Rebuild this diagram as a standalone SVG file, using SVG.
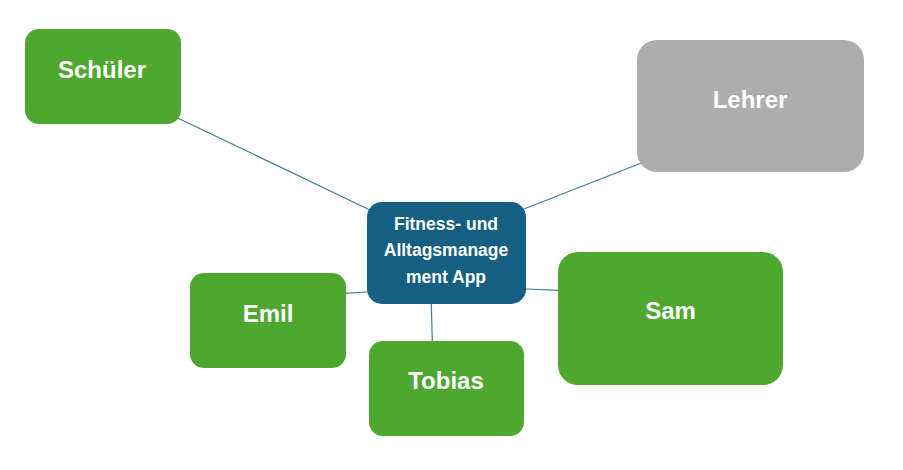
<svg xmlns="http://www.w3.org/2000/svg" width="903" height="470" viewBox="0 0 903 470">
<style>
.green{fill:#4EA72E;}
.grey{fill:#ADADAD;}
.blue{fill:#156082;}
.lbl{font-family:"Liberation Sans",Arial,sans-serif;font-weight:bold;font-size:24px;fill:#FFFFFF;text-anchor:middle;}
.ctr{font-family:"Liberation Sans",Arial,sans-serif;font-weight:bold;font-size:17.5px;fill:#FFFFFF;text-anchor:middle;}
.con line{stroke:#3F7EA0;stroke-width:1.2;fill:none;}
</style>
<rect width="903" height="470" fill="#FFFFFF"/>
<g id="connectors" class="con">
<line x1="175" y1="116.7" x2="370" y2="210"/>
<line x1="523.3" y1="209.3" x2="643.3" y2="162.3"/>
<line x1="345" y1="293.3" x2="367.3" y2="292"/>
<line x1="431.3" y1="304" x2="432.3" y2="341.7"/>
<line x1="526" y1="289" x2="558.3" y2="290.3"/>
</g>
<g id="center">
<rect class="blue" x="367" y="202" width="159" height="102" rx="15"/>
<text class="ctr" x="446" y="230">Fitness- und</text>
<text class="ctr" x="446" y="256">Alltagsmanage</text>
<text class="ctr" x="446" y="282.5">ment App</text>
</g>
<g id="schueler">
<rect class="green" x="25" y="29" width="156" height="95" rx="14"/>
<text class="lbl" x="102" y="78.3">Schüler</text>
</g>
<g id="lehrer">
<rect class="grey" x="637" y="40" width="227" height="132" rx="20"/>
<text class="lbl" x="750" y="107.7">Lehrer</text>
</g>
<g id="emil">
<rect class="green" x="190" y="273" width="156" height="95" rx="14"/>
<text class="lbl" x="268" y="321.7">Emil</text>
</g>
<g id="tobias">
<rect class="green" x="369" y="341" width="155" height="95" rx="14"/>
<text class="lbl" x="446" y="389.3">Tobias</text>
</g>
<g id="sam">
<rect class="green" x="558" y="252" width="225" height="133" rx="20"/>
<text class="lbl" x="670.5" y="319.3">Sam</text>
</g>
</svg>
